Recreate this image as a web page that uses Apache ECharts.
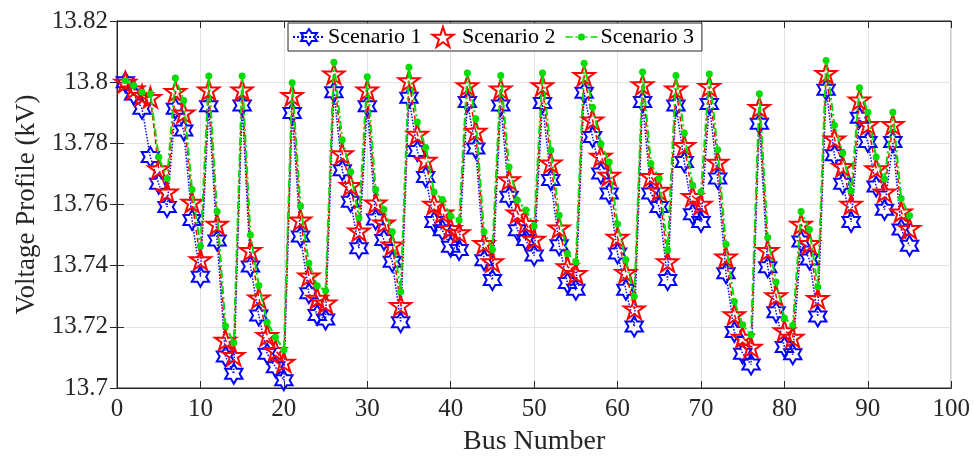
<!DOCTYPE html>
<html><head><meta charset="utf-8">
<script src="https://cdn.jsdelivr.net/npm/echarts@6/dist/echarts.min.js"></script>
<style>html,body{margin:0;padding:0;background:#fff}#c{width:973px;height:461px}</style>
</head><body><div id="c"></div>
<script>
const seriesNames = ['Scenario 1', 'Scenario 2', 'Scenario 3'];
const xTicks = [0, 10, 20, 30, 40, 50, 60, 70, 80, 90, 100];
const yTicks = [13.7, 13.72, 13.74, 13.76, 13.78, 13.8, 13.82];
const scenario1 = [13.800,13.796,13.7913,13.7755,13.7668,13.7592,13.7913,13.7842,13.7549,13.7364,
13.7921,13.7482,13.7103,13.7047,13.7924,13.7397,13.7237,13.7112,13.7068,13.7025,
13.7899,13.7495,13.731,13.7239,13.7224,13.7967,13.7712,13.7609,13.7457,13.7921,
13.7551,13.7484,13.7413,13.7215,13.7949,13.7775,13.769,13.7543,13.7516,13.7462,
13.7451,13.7935,13.7783,13.7418,13.7353,13.7924,13.7625,13.7516,13.7484,13.7433,
13.7932,13.768,13.7467,13.7343,13.7321,13.7965,13.7821,13.7701,13.7636,13.744,
13.7321,13.7201,13.7935,13.7636,13.7592,13.7353,13.7924,13.7739,13.7568,13.7543,
13.7929,13.7685,13.7375,13.7183,13.7112,13.7077,13.7864,13.7395,13.7248,13.7134,
13.711,13.7479,13.742,13.7234,13.7975,13.7761,13.7668,13.7543,13.7884,13.7804,
13.7659,13.7583,13.7804,13.7518,13.7465];
const scenario2 = [13.800,13.7978,13.7957,13.795,13.7717,13.7641,13.797,13.790,13.7608,13.742,
13.7975,13.7536,13.7157,13.7107,13.7975,13.745,13.7295,13.7172,13.7123,13.7085,
13.7957,13.755,13.7367,13.7294,13.7278,13.8027,13.7766,13.7663,13.7514,13.7975,
13.7605,13.754,13.7468,13.727,13.8005,13.783,13.7745,13.7601,13.7573,13.7522,
13.7508,13.7989,13.784,13.7473,13.7413,13.7978,13.7681,13.7573,13.7538,13.7487,
13.7989,13.7736,13.7524,13.7397,13.7375,13.8022,13.7877,13.7758,13.7696,13.7493,
13.7378,13.7259,13.7992,13.7692,13.7647,13.7413,13.7978,13.7793,13.7627,13.7601,
13.7986,13.7739,13.7429,13.724,13.7166,13.7134,13.7918,13.745,13.7302,13.7188,
13.7166,13.7536,13.7473,13.7293,13.8029,13.7815,13.7725,13.7601,13.7942,13.7862,
13.7717,13.7641,13.7862,13.7576,13.7522];
const scenario3 = [13.8005,13.7989,13.7967,13.7962,13.7755,13.7685,13.8014,13.794,13.7649,13.7464,
13.802,13.7577,13.7203,13.7148,13.802,13.750,13.7335,13.7215,13.7166,13.7125,
13.7998,13.7595,13.7408,13.7334,13.7318,13.8065,13.7812,13.7707,13.7557,13.8018,
13.7649,13.7584,13.7511,13.7315,13.8049,13.787,13.7786,13.7641,13.7616,13.7562,
13.7549,13.803,13.788,13.7511,13.7453,13.8022,13.7723,13.7614,13.7582,13.753,
13.803,13.7777,13.7565,13.744,13.7413,13.8062,13.7918,13.7799,13.7739,13.7536,
13.7419,13.7299,13.8033,13.7734,13.7685,13.7451,13.8022,13.7834,13.7663,13.7641,
13.8027,13.7779,13.747,13.7283,13.7207,13.7174,13.7962,13.7492,13.7347,13.7229,
13.7205,13.7577,13.7518,13.7331,13.8071,13.7859,13.7768,13.7644,13.7982,13.7902,
13.7755,13.7683,13.7902,13.762,13.7563];
const buses = scenario1.map((_, i) => i + 1);

const hexagram = 'path://M0,-10L2.887,-5L8.66,-5L5.774,0L8.66,5L2.887,5L0,10L-2.887,5L-8.66,5L-5.774,0L-8.66,-5L-2.887,-5Z';
const pentagram = 'path://M0,-10L2.245,-3.09L9.51,-3.09L3.633,1.18L5.878,8.09L0,3.82L-5.878,8.09L-3.633,1.18L-9.51,-3.09L-2.245,-3.09Z';
// legend icon for scenario 3: dash-dot line with a small dot, in a 32x20 box
const greenIcon = 'path://M0,0L0.01,0L0,0.01Z M32,20L31.99,20L32,19.99Z ' +
  'M0,9.2L7,9.2L7,10.8L0,10.8Z M10,9.2L12,9.2L12,10.8L10,10.8Z ' +
  'M20,9.2L22,9.2L22,10.8L20,10.8Z M25,9.2L32,9.2L32,10.8L25,10.8Z ' +
  'M19.5,10A3.5,3.5,0,1,1,12.5,10A3.5,3.5,0,1,1,19.5,10Z';
const FONT = '"Liberation Serif", "Times New Roman", serif';
const AX = '#262626';

function pairs(vals) { return buses.map((b, i) => [b, vals[i]]); }

const chart = echarts.init(document.getElementById('c'), null, {renderer: 'canvas'});
const fmt = v => String(+(+v).toFixed(2));
chart.setOption({
  animation: false,
  backgroundColor: '#fff',
  grid: {left: 117, right: 20, top: 21, bottom: 73, show: true, borderColor: AX, borderWidth: 1, backgroundColor: '#fff'},
  legend: {
    top: 23, left: 288, padding: [3, 8, 3, 4], itemGap: 10, itemWidth: 32, itemHeight: 20,
    backgroundColor: '#fff', borderColor: AX, borderWidth: 1, borderRadius: 0,
    textStyle: {fontFamily: FONT, fontSize: 22, color: '#000', padding: [2, 0, 0, -2]},
    data: [
      {name: seriesNames[0]},
      {name: seriesNames[1], icon: pentagram},
      {name: seriesNames[2], icon: greenIcon, itemStyle: {borderWidth: 0}}
    ]
  },
  xAxis: [{
    type: 'value', min: xTicks[0], max: xTicks[xTicks.length - 1], interval: 10,
    name: 'Bus Number', nameLocation: 'middle', nameGap: 40,
    nameTextStyle: {fontFamily: FONT, fontSize: 28, color: '#262626'},
    axisLine: {show: true, lineStyle: {color: AX}},
    axisTick: {inside: true, length: 7, lineStyle: {color: AX}},
    axisLabel: {fontFamily: FONT, fontSize: 25, color: '#262626', margin: 9},
    splitLine: {show: true, lineStyle: {color: '#e3e3e3', width: 1}}
  }, {
    type: 'value', position: 'top', min: 0, max: 100, interval: 10,
    axisLine: {show: true, lineStyle: {color: AX}},
    axisTick: {inside: true, length: 7, lineStyle: {color: AX}},
    axisLabel: {show: false}, splitLine: {show: false}
  }],
  yAxis: [{
    type: 'value', min: yTicks[0], max: yTicks[yTicks.length - 1], interval: 0.02,
    name: 'Voltage Profile (kV)', nameLocation: 'middle', nameGap: 76,
    nameTextStyle: {fontFamily: FONT, fontSize: 27, color: '#262626'},
    axisLine: {show: true, lineStyle: {color: AX}},
    axisTick: {inside: true, length: 7, lineStyle: {color: AX}},
    axisLabel: {fontFamily: FONT, fontSize: 25, color: '#262626', margin: 9, formatter: fmt},
    splitLine: {show: true, lineStyle: {color: '#e3e3e3', width: 1}}
  }, {
    type: 'value', position: 'right', min: 13.7, max: 13.82, interval: 0.02,
    axisLine: {show: true, lineStyle: {color: AX}},
    axisTick: {inside: true, length: 7, lineStyle: {color: AX}},
    axisLabel: {show: false}, splitLine: {show: false}
  }],
  series: [{
    name: seriesNames[0], type: 'line', data: pairs(scenario1), z: 2,
    symbol: hexagram, symbolSize: 20, symbolKeepAspect: true, showAllSymbol: true,
    lineStyle: {color: '#0000ff', width: 1.5, type: 'dotted'},
    itemStyle: {color: 'rgba(255,255,255,0)', borderColor: '#0000ff', borderWidth: 2}
  }, {
    name: seriesNames[1], type: 'line', data: pairs(scenario2), z: 3,
    symbol: pentagram, symbolSize: 21, symbolKeepAspect: true, showAllSymbol: true,
    lineStyle: {color: '#ff0000', width: 1.5, type: [5, 3]},
    itemStyle: {color: 'rgba(255,255,255,0)', borderColor: '#ff0000', borderWidth: 2}
  }, {
    name: seriesNames[2], type: 'line', data: pairs(scenario3), z: 4,
    symbol: 'circle', symbolSize: 7, showAllSymbol: true,
    lineStyle: {color: '#00dd00', width: 2, type: [8, 3, 2, 3]},
    itemStyle: {color: '#00dd00', borderColor: '#00dd00', borderWidth: 0}
  }]
});
</script></body></html>
